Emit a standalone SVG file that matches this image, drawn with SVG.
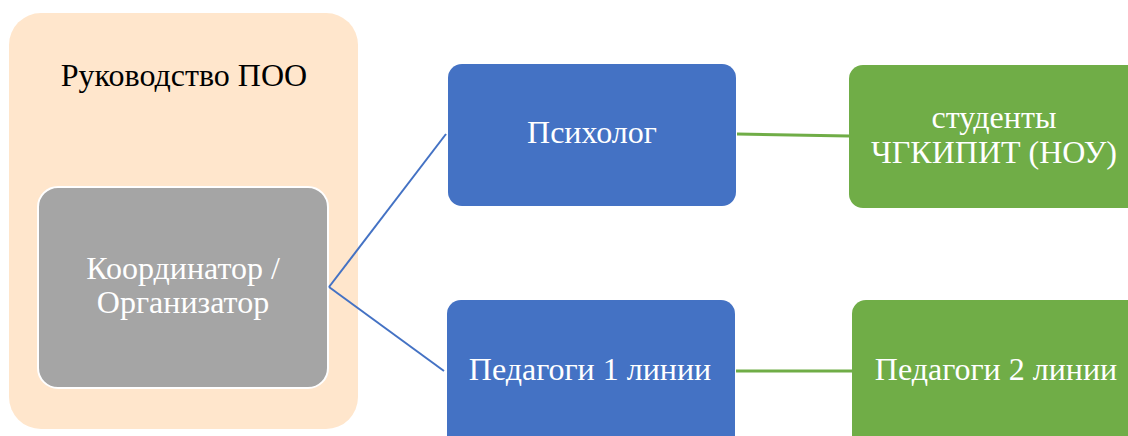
<svg xmlns="http://www.w3.org/2000/svg" width="1128" height="436" viewBox="0 0 1128 436">
<style>
text{font-family:'Liberation Serif','Times New Roman',serif;font-size:32px;text-anchor:middle}
.w{fill:#ffffff}
.k{fill:#000000}
.blue{fill:#4472C4}
.green{fill:#70AD47}
.conB{stroke:#4472C4;stroke-width:2;fill:none}
.conG{stroke:#70AD47;stroke-width:3;fill:none}
</style>
<rect width="1128" height="436" fill="#ffffff"/>
<g id="group-rukovodstvo">
<rect x="9" y="13" width="349" height="416" rx="32" fill="#FFE6CC"/>
<text class="k" x="184" y="86">Руководство ПОО</text>
</g>
<g id="node-koordinator">
<rect x="38" y="187" width="290" height="201" rx="20" fill="#A5A5A5" stroke="#ffffff" stroke-width="2"/>
<text class="w" x="183" y="279">Координатор /</text>
<text class="w" x="183" y="313">Организатор</text>
</g>
<g id="connectors">
<line class="conB" x1="329" y1="287" x2="446" y2="134"/>
<line class="conB" x1="329" y1="287" x2="444" y2="371"/>
<line class="conG" x1="737" y1="134" x2="849" y2="136"/>
<line class="conG" x1="736" y1="371" x2="852" y2="371"/>
</g>
<g id="node-psiholog">
<rect class="blue" x="448" y="64" width="288" height="142" rx="14"/>
<text class="w" x="592" y="143">Психолог</text>
</g>
<g id="node-studenty">
<rect class="green" x="849" y="65" width="300" height="143" rx="14"/>
<text class="w" x="994" y="128">студенты</text>
<text class="w" x="994" y="163">ЧГКИПИТ (НОУ)</text>
</g>
<g id="node-pedagogi1">
<rect class="blue" x="447" y="300" width="288" height="150" rx="14"/>
<text class="w" x="590" y="380">Педагоги 1 линии</text>
</g>
<g id="node-pedagogi2">
<rect class="green" x="852" y="300" width="300" height="150" rx="14"/>
<text class="w" x="996" y="380">Педагоги 2 линии</text>
</g>
</svg>
